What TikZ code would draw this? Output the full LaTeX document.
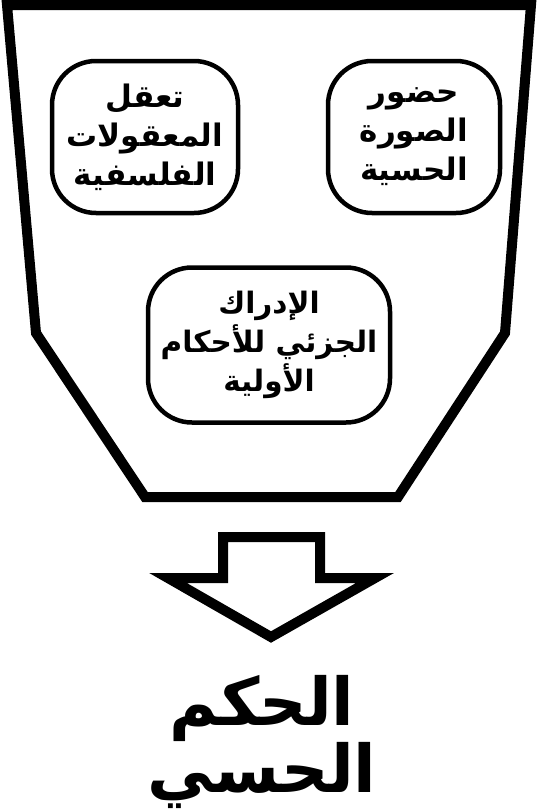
\documentclass[tikz,border=0pt]{standalone}
\usepackage{fontspec}
\newfontfamily\arabicfont[Script=Arabic]{DejaVu Sans}
\TeXXeTstate=1
\usepackage{tikz}
\usetikzlibrary{calc, positioning}

\tikzset{
    idea/.style={draw, line width=4.5pt, rounded corners=44pt, align=center,
        inner sep=0pt, font=\arabicfont\bfseries\fontsize{31}{39}\selectfont},
    result/.style={align=center, inner sep=0pt,
        font=\arabicfont\bfseries\fontsize{66}{62}\selectfont}
}

\begin{document}
\begin{tikzpicture}[x=1pt, y=-1pt, line join=miter]

    \useasboundingbox (0,0) rectangle (537,811);

    % =================================================================
    % 1. CÁC ĐỈNH CỦA PHỄU
    % =================================================================
    \coordinate (TL) at (7,5);
    \coordinate (TR) at (531,5);
    \coordinate (R) at (505,333);
    \coordinate (BR) at (398,497);
    \coordinate (BL) at (145,497);
    \coordinate (L) at (36,333);

    % Viền phễu
    \draw[line width=10pt] (TL) -- (TR) -- (R) -- (BR) -- (BL) -- (L) -- cycle;

    % =================================================================
    % 2. BA Ô Ý TƯỞNG
    % =================================================================
    \node[idea, minimum width=186pt, minimum height=152pt] (aql) at (145,137)
        {\beginR تعقل\endR\\ \beginR المعقولات\endR\\ \beginR الفلسفية\endR};
    \node[idea, minimum width=172pt, minimum height=152pt] (hudur) at (414,137)
        {\beginR حضور\endR\\ \beginR الصورة\endR\\ \beginR الحسية\endR};
    \node[idea, font=\arabicfont\bfseries\fontsize{29.5}{39}\selectfont,
        minimum width=242pt, minimum height=155pt] (idrak) at (269,345)
        {\beginR الإدراك\endR\\ \beginR الجزئي للأحكام\endR\\ \beginR الأولية\endR};

    % =================================================================
    % 3. MŨI TÊN RỖNG
    % =================================================================
    \coordinate (S1) at (223,537);
    \coordinate (S2) at (320,537);
    \coordinate (tip) at (271,637);
    \draw[line width=10pt] (S1) -- (S2) -- (S2 |- 0,578) -- (375,578) -- (tip)
        -- (168,578) -- (S1 |- 0,578) -- cycle;

    % =================================================================
    % 4. KẾT QUẢ
    % =================================================================
    \node[result] (hukm) at (262,742)
        {\beginR الحكم\endR\\ \beginR الحسي\endR};

\end{tikzpicture}
\end{document}
